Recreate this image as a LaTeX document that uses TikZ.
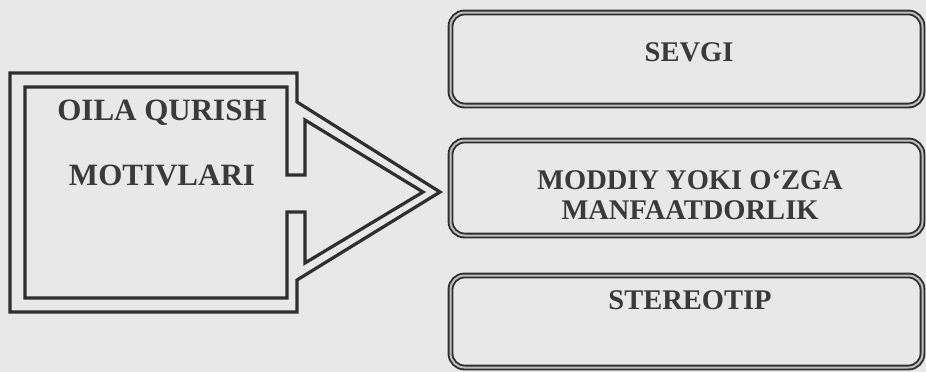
\documentclass[tikz,border=0pt]{standalone}
\usepackage{fontspec}
\setmainfont{Liberation Serif}
\usepackage{tikz}
\usetikzlibrary{positioning}

\definecolor{paper}{HTML}{E8E8E8}
\definecolor{ink}{HTML}{2F2F2F}
\definecolor{txt}{HTML}{3A3A3A}

\begin{document}
\begin{tikzpicture}[x=1pt,y=-1pt,
  ansbox/.style={draw=ink,line width=1.9pt,double=gray!50,double distance=2pt,
    rounded corners=14pt,minimum width=472pt,inner sep=0pt},
  anstext/.style={text=txt,font=\fontsize{28.5}{30}\selectfont\bfseries,align=center,inner sep=0pt},
  maintext/.style={text=txt,font=\fontsize{31}{33}\selectfont\bfseries,inner sep=0pt},
  frame/.style={draw=ink,line width=3.2pt,line join=miter}]
\fill[paper] (0,0) rectangle (926,372);
\useasboundingbox (0,0) rectangle (926,372);
% left block with the big arrow
\draw[frame] (10,73) -- (297,73) -- (297,102) -- (440,192) coordinate (tip)
  -- (297,280) -- (297,312) -- (10,312) -- cycle;
\draw[frame] (25,87) -- (287,87) -- (287,175) -- (305,175) -- (305,120) -- (423,192)
  -- (305,263) -- (305,212) -- (287,212) -- (287,298) -- (25,298) -- cycle;
\node[maintext] (oila) at (162,113) {OILA QURISH};
\node[maintext] (motiv) at (162,175) {MOTIVLARI};
% right boxes
\node[ansbox,minimum height=93pt] (sevgibox) at (686.5,59) {};
\node[anstext] (sevgi) at (689,52) {SEVGI};
\node[ansbox,minimum height=95pt] (moddiybox) at (686.5,188) {};
\node[anstext] (moddiy) at (690,195) {MODDIY YOKI O‘ZGA\\MANFAATDORLIK};
\node[ansbox,minimum height=92pt] (stereobox) at (686.5,321.5) {};
\node[anstext] (stereo) at (690,300) {STEREOTIP};
\end{tikzpicture}
\end{document}
